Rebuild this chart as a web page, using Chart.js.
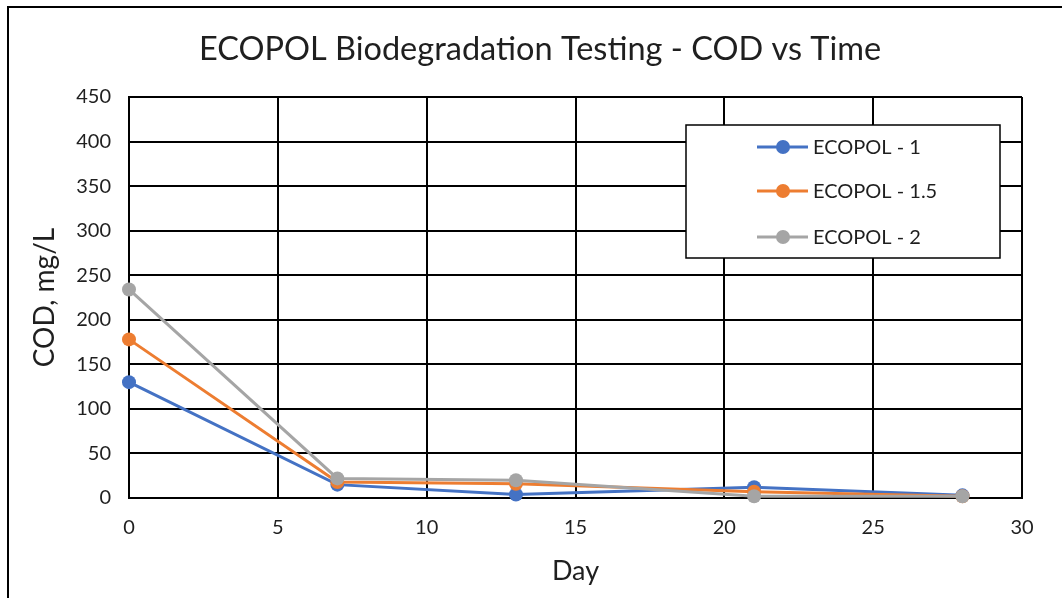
<!DOCTYPE html>
<html><head><meta charset="utf-8">
<script src="https://cdn.jsdelivr.net/npm/chart.js@4/dist/chart.umd.min.js"></script>
<style>html,body{margin:0;padding:0;background:#fff;overflow:hidden}#wrap{width:1062px;height:598px;position:relative}</style>
</head><body><div id="wrap"><canvas id="c" width="1062" height="598"></canvas></div>
<script>
const titleText = "ECOPOL Biodegradation Testing - COD vs Time";
const days = [0, 7, 13, 21, 28];
const ecopol1 = [130, 15, 4, 12, 3];
const ecopol15 = [178, 18, 16, 7, 2];
const ecopol2 = [234, 22, 20, 2, 2];
const seriesNames = ["ECOPOL - 1", "ECOPOL - 1.5", "ECOPOL - 2"];
const seriesColors = ["#4472C4", "#ED7D31", "#A5A5A5"];
const FONT = "Lato, 'Open Sans', sans-serif";
const TXT = "#1f1f1f";

const allSeries = [ecopol1, ecopol15, ecopol2];
const datasets = allSeries.map((vals, i) => ({
  label: seriesNames[i],
  data: days.map((d, j) => ({x: d, y: vals[j]})),
  borderColor: seriesColors[i],
  backgroundColor: seriesColors[i],
  pointBackgroundColor: seriesColors[i],
  pointBorderColor: seriesColors[i],
  borderWidth: 3,
  pointRadius: 7,
  pointBorderWidth: 0,
  order: 2 - i,
  clip: false,
  tension: 0
}));

const decor = {
  id: 'decor',
  beforeDraw(chart) {
    const ctx = chart.ctx;
    ctx.save();
    ctx.fillStyle = '#fff';
    ctx.fillRect(0, 0, chart.width, chart.height);
    ctx.strokeStyle = '#000';
    ctx.lineWidth = 2;
    ctx.strokeRect(8, 7, 3000, 3000);
    ctx.fillStyle = TXT;
    ctx.font = "32.5px " + FONT;
    ctx.textAlign = 'center';
    ctx.textBaseline = 'middle';
    ctx.fillText(titleText, 540, 50);
    ctx.restore();
  },
  afterDraw(chart) {
    const ctx = chart.ctx;
    ctx.save();
    const bx = 686, by = 125, bw = 314, bh = 133;
    ctx.fillStyle = '#fff';
    ctx.fillRect(bx, by, bw, bh);
    ctx.strokeStyle = '#000';
    ctx.lineWidth = 1.5;
    ctx.strokeRect(bx, by, bw, bh);
    const rows = [147, 191, 237];
    chart.data.datasets.forEach((ds, i) => {
      const y = rows[i];
      ctx.strokeStyle = ds.borderColor;
      ctx.lineWidth = 3;
      ctx.beginPath();
      ctx.moveTo(757, y); ctx.lineTo(808, y); ctx.stroke();
      ctx.fillStyle = ds.borderColor;
      ctx.beginPath(); ctx.arc(783, y, 7, 0, Math.PI * 2); ctx.fill();
      ctx.fillStyle = TXT;
      ctx.font = "20px " + FONT;
      ctx.textAlign = 'left';
      ctx.textBaseline = 'middle';
      ctx.fillText(ds.label, 813, y + 1);
    });
    ctx.restore();
  }
};

new Chart(document.getElementById('c'), {
  type: 'line',
  data: { datasets },
  options: {
    responsive: false,
    animation: false,
    devicePixelRatio: 1,
    layout: { padding: { top: 97, left: 0, right: 40, bottom: 0 } },
    plugins: { legend: { display: false }, title: { display: false }, tooltip: { enabled: false } },
    scales: {
      x: {
        type: 'linear', min: 0, max: 30,
        ticks: { stepSize: 5, color: TXT, font: { family: FONT, size: 20 }, padding: 18 },
        grid: { color: '#000', lineWidth: 2, drawTicks: false },
        border: { display: true, color: '#000', width: 2 },
        title: { display: true, text: 'Day', color: TXT, font: { family: FONT, size: 27 }, padding: { top: 0, bottom: 11 } },
        afterFit(s) { s.height = 100; }
      },
      y: {
        min: 0, max: 450,
        ticks: { stepSize: 50, color: TXT, font: { family: FONT, size: 20 }, padding: 18 },
        grid: { color: '#000', lineWidth: 2, drawTicks: false },
        border: { display: true, color: '#000', width: 2 },
        title: { display: true, text: 'COD, mg/L', color: TXT, font: { family: FONT, size: 28 }, padding: { top: 28, bottom: 0 } },
        afterFit(s) { s.width = 129; }
      }
    }
  },
  plugins: [decor]
});
</script></body></html>
